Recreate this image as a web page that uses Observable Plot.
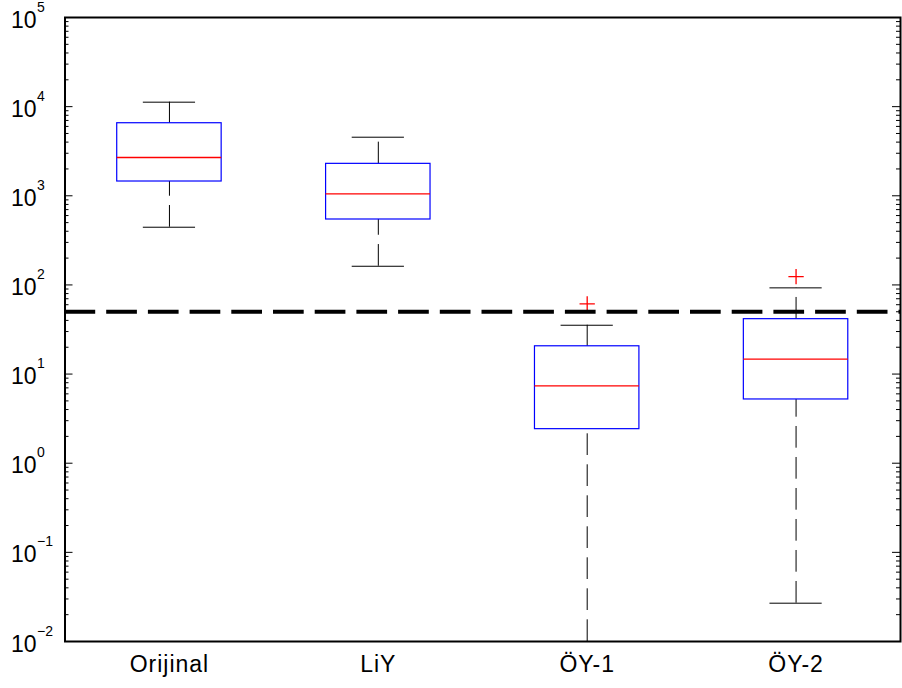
<!DOCTYPE html>
<html><head><meta charset="utf-8">
<script src="https://cdn.jsdelivr.net/npm/d3@7"></script>
<script src="https://cdn.jsdelivr.net/npm/@observablehq/plot@0.6"></script>
<style>
body{margin:0;background:#fff}
.bp g[aria-label="x-axis tick label"] text { letter-spacing: 1px; }
</style>
</head><body><div id="chart"></div>
<script>
// Data
const categories = ["Orijinal", "LiY", "ÖY-1", "ÖY-2"];
const lowerWhisker = [444, 162, 0.01, 0.0269];
const q1 = [1446, 542, 2.41, 5.19];
const medians = [2687, 1052, 7.38, 14.7];
const q3 = [6516, 2282, 20.5, 41.3];
const upperWhisker = [11220, 4540, 35.3, 92.7];
const outlierCategory = ["ÖY-1", "ÖY-2"];
const outlierValue = [61.4, 124];
const threshold = 50;
const decades = [-2, -1, 0, 1, 2, 3, 4, 5];
const exponentLabels = ["−2", "−1", "0", "1", "2", "3", "4", "5"];

const W = 902, H = 688;
const mL = 64.5, mR = 2, mT = 17, mB = 47;
const plotW = W - mL - mR;
const boxWidth = 0.5, capWidth = 0.25;

const rows = categories.map((c, i) => ({
  cat: c, pos: i + 1, lo: lowerWhisker[i], q1: q1[i], med: medians[i], q3: q3[i], hi: upperWhisker[i]
}));
const outliers = outlierCategory.map((c, i) => ({pos: categories.indexOf(c) + 1, value: outlierValue[i]}));
const majorTicks = decades.map(d => Math.pow(10, d));
const minorTicks = [];
for (const d of decades.slice(0, -1)) for (let k = 2; k <= 9; k++) minorTicks.push(k * Math.pow(10, d));
const labelRows = decades.map((d, i) => ({v: Math.pow(10, d), e: exponentLabels[i]}));

const chart = Plot.plot({
  width: W, height: H, className: "bp",
  marginLeft: mL, marginRight: mR, marginTop: mT, marginBottom: mB,
  style: {fontFamily: "'Liberation Sans', Arial, Helvetica, sans-serif", fontSize: "23px", background: "white", color: "black"},
  x: {type: "linear", domain: [0.5, 4.5], axis: null, label: null},
  y: {type: "log", domain: [1e-2, 1e5], axis: null, label: null},
  marks: [
    // whiskers (dashed), drawn from the lower end upward
    Plot.ruleX(rows, {x: "pos", y1: "lo", y2: "q1", stroke: "black", strokeWidth: 1, strokeDasharray: "21.7,9.3"}),
    Plot.ruleX(rows, {x: "pos", y1: "q3", y2: "hi", stroke: "black", strokeWidth: 1, strokeDasharray: "21.7,9.3"}),
    // whisker caps
    Plot.ruleY(rows, {y: "lo", x1: d => d.pos - capWidth / 2, x2: d => d.pos + capWidth / 2, stroke: "black", strokeWidth: 1}),
    Plot.ruleY(rows, {y: "hi", x1: d => d.pos - capWidth / 2, x2: d => d.pos + capWidth / 2, stroke: "black", strokeWidth: 1}),
    // boxes
    Plot.rect(rows, {x1: d => d.pos - boxWidth / 2, x2: d => d.pos + boxWidth / 2, y1: "q1", y2: "q3", fill: "none", stroke: "#0000ff", strokeWidth: 1.2}),
    // medians
    Plot.ruleY(rows, {y: "med", x1: d => d.pos - boxWidth / 2, x2: d => d.pos + boxWidth / 2, stroke: "#ff0000", strokeWidth: 1.3}),
    // outliers
    Plot.dot(outliers, {x: "pos", y: "value", symbol: "plus", r: 5, stroke: "#ff0000", strokeWidth: 1.3}),
    // threshold
    Plot.ruleY([threshold], {stroke: "black", strokeWidth: 4, strokeDasharray: "30.7,11"}),
    // y ticks, inside, both sides
    Plot.tickY(majorTicks, {y: d => d, insetRight: plotW - 8, stroke: "black", strokeWidth: 1}),
    Plot.tickY(minorTicks, {y: d => d, insetRight: plotW - 4, stroke: "black", strokeWidth: 1}),
    Plot.tickY(majorTicks, {y: d => d, insetLeft: plotW - 8, stroke: "black", strokeWidth: 1}),
    Plot.tickY(minorTicks, {y: d => d, insetLeft: plotW - 4, stroke: "black", strokeWidth: 1}),
    // y tick labels: 10 with superscript exponent
    Plot.text(labelRows, {y: "v", text: () => "10", frameAnchor: "left", textAnchor: "end", lineAnchor: "bottom", dx: -28.5, dy: 10, fontSize: 23, fill: "black"}),
    Plot.text(labelRows, {y: "v", text: "e", frameAnchor: "left", textAnchor: "start", lineAnchor: "bottom", dx: -28, dy: -6, fontSize: 14, fill: "black"}),
    // x axis labels
    Plot.axisX({ticks: [1, 2, 3, 4], tickFormat: i => categories[i - 1], tickSize: 0, tickPadding: 14, fontSize: 23, color: "black", label: null}),
    Plot.frame({stroke: "black", strokeWidth: 2})
  ]
});
document.getElementById("chart").appendChild(chart);
</script>
</body></html>
